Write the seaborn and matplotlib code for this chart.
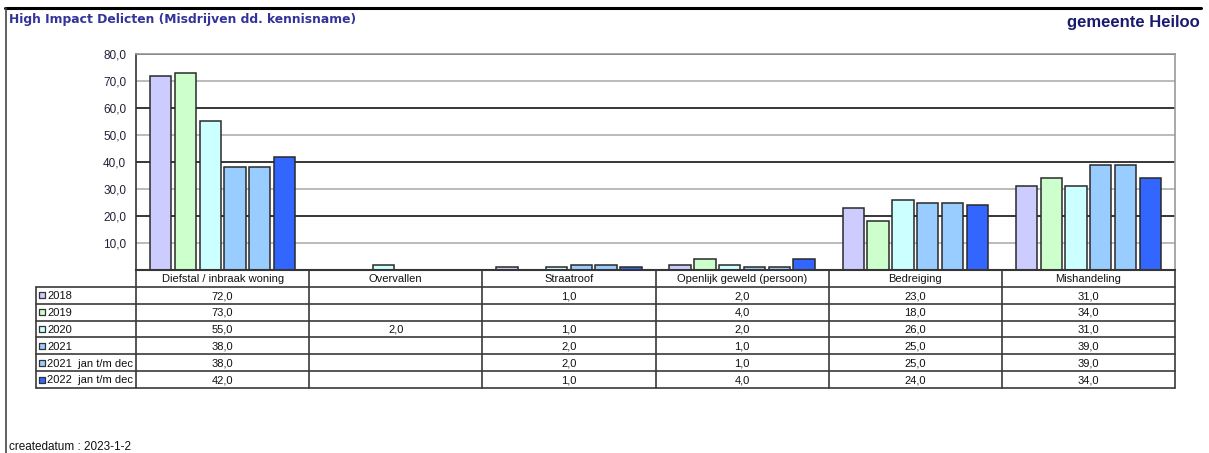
import numpy as np
import pandas as pd
import matplotlib
matplotlib.use("Agg")
import matplotlib.pyplot as plt
from matplotlib.lines import Line2D
import seaborn as sns

# ---------------- data ----------------
categories = ["Diefstal / inbraak woning", "Overvallen", "Straatroof",
              "Openlijk geweld (persoon)", "Bedreiging", "Mishandeling"]
series_labels = ["2018", "2019", "2020", "2021", "2021  jan t/m dec", "2022  jan t/m dec"]
nan = np.nan
v2018 = [72.0, nan, 1.0, 2.0, 23.0, 31.0]
v2019 = [73.0, nan, nan, 4.0, 18.0, 34.0]
v2020 = [55.0, 2.0, 1.0, 2.0, 26.0, 31.0]
v2021 = [38.0, nan, 2.0, 1.0, 25.0, 39.0]
v2021_jd = [38.0, nan, 2.0, 1.0, 25.0, 39.0]
v2022_jd = [42.0, nan, 1.0, 4.0, 24.0, 34.0]
series_values = [v2018, v2019, v2020, v2021, v2021_jd, v2022_jd]
colors = ["#CCCCFF", "#CCFFCC", "#CCFFFF", "#99CCFF", "#99CCFF", "#3366FF"]
yticks = [0, 10, 20, 30, 40, 50, 60, 70, 80]

title = "High Impact Delicten (Misdrijven dd. kennisname)"
right_title = "gemeente Heiloo"
footer = "createdatum : 2023-1-2"

# ---------------- figure ----------------
sns.set_style("white")
plt.rcParams['font.family'] = ['Liberation Sans', 'DejaVu Sans']
narrow = ['Liberation Sans Narrow', 'Liberation Sans', 'DejaVu Sans']

W, H = 1209, 453
fig = plt.figure(figsize=(W / 100, H / 100), dpi=100)

def fx(px):
    return px / W

def fy(py):
    return 1 - py / H

# plot area (pixels)
pl, pr, pt, pb = 136, 1175, 54, 270
ax = fig.add_axes([fx(pl), fy(pb), fx(pr - pl), (pb - pt) / H])

rows = []
for lab, vals in zip(series_labels, series_values):
    for c, v in zip(categories, vals):
        rows.append({"cat": c, "series": lab, "value": v})
df = pd.DataFrame(rows)

sns.barplot(data=df, x="cat", y="value", hue="series", order=categories,
            hue_order=series_labels, palette=colors, saturation=1,
            width=0.86, gap=0.14, edgecolor="#2a2a2a", linewidth=1.1,
            legend=False, ax=ax, zorder=2)

ax.set_xlim(-0.5, len(categories) - 0.5)
ax.set_ylim(0, 80)
for t in yticks[1:]:
    ax.axhline(t, color="#000000" if t % 20 == 0 else "#a8a8a8",
               lw=1.1, zorder=0.5)
ax.set_yticks(yticks)
ax.set_yticklabels([""] + [f"{t:.1f}".replace(".", ",") for t in yticks[1:]],
                   fontsize=8.5, color="#22223a")
ax.tick_params(axis="y", length=4, width=1, color="#333333", direction="out", pad=3)
ax.set_xticks([])
ax.set_xlabel("")
ax.set_ylabel("")
for s in ["top", "right"]:
    ax.spines[s].set_color("#999999")
    ax.spines[s].set_linewidth(1.2)
ax.spines["left"].set_color("#333333")
ax.spines["left"].set_linewidth(1.2)
ax.spines["bottom"].set_color("#222222")
ax.spines["bottom"].set_linewidth(1.5)

# ---------------- data table ----------------
tl, tt, tb = 36, 270, 388
cat_px = (pr - pl) / len(categories)
leg_w = (pl - tl) / cat_px
tax = fig.add_axes([fx(tl), fy(tb), fx(pr - tl), (tb - tt) / H])
x0 = -0.5 - leg_w
x_first = -0.5
x_end = len(categories) - 0.5
nrows = len(series_labels) + 1
tax.set_xlim(x0, x_end)
tax.set_ylim(nrows, 0)
tax.axis("off")

lc = "#3a3a3a"
tax.plot([x_first, x_end], [0, 0], color=lc, lw=1.2, clip_on=False)
for r in range(1, nrows + 1):
    tax.plot([x0, x_end], [r, r], color=lc, lw=1.2, clip_on=False)
tax.plot([x0, x0], [1, nrows], color=lc, lw=1.2, clip_on=False)
for i in range(len(categories) + 1):
    tax.plot([i - 0.5, i - 0.5], [0, nrows], color=lc, lw=1.2, clip_on=False)

tfs = 8
for i, c in enumerate(categories):
    tax.text(i, 0.55, c, ha="center", va="center", fontsize=tfs,
             family=narrow, color="#111111")
for r, (lab, vals, col) in enumerate(zip(series_labels, series_values, colors), start=1):
    tax.scatter([x0 + 0.035], [r + 0.5], marker="s", s=16, c=col,
                edgecolors="#333333", linewidths=0.9, clip_on=False, zorder=3)
    tax.text(x0 + 0.066, r + 0.55, lab, ha="left", va="center", fontsize=tfs,
             family=narrow, color="#111111")
    for i, v in enumerate(vals):
        if not np.isnan(v):
            tax.text(i, r + 0.55, f"{v:.1f}".replace(".", ","), ha="center",
                     va="center", fontsize=tfs, family=narrow, color="#111111")

# ---------------- frame & titles ----------------
fig.add_artist(Line2D([fx(5), fx(1201)], [fy(8), fy(8)], color="black", lw=2.2))
fig.add_artist(Line2D([fx(6), fx(6)], [fy(8), fy(453)], color="#444444", lw=1.2))
fig.text(fx(9), fy(20), title, ha="left", va="center", fontsize=8.9,
         fontweight="bold", color="#33339a", family=['DejaVu Sans'])
fig.text(fx(1200), fy(22), right_title, ha="right", va="center", fontsize=12,
         fontweight="bold", color="#1a1a70")
fig.text(fx(9), fy(447), footer, ha="left", va="center", fontsize=8.5,
         family=narrow, color="#111111")

fig.savefig("out.png", dpi=100)
